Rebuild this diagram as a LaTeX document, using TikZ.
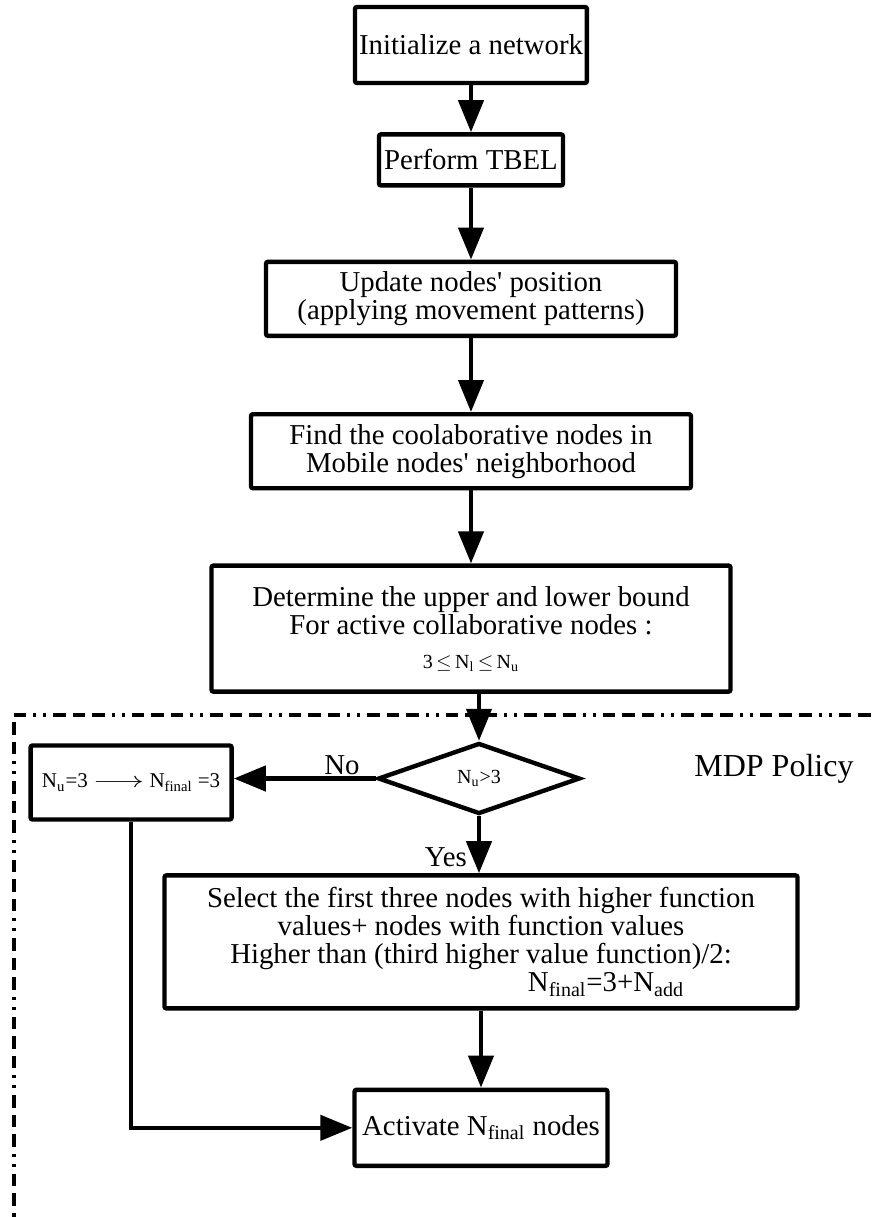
\documentclass[tikz,border=0pt]{standalone}
\usepackage{fontspec}
\setmainfont{Liberation Serif}
\usepackage{graphicx}
\usepackage{tikz}
\usetikzlibrary{positioning, arrows.meta, shapes.geometric, calc}
\tikzset{
	>={Triangle[length=16pt, width=12.5pt]},
	every node/.style={font=\fontsize{14.4}{14}\selectfont},
	process/.style={draw, rectangle, rounded corners=1pt, align=center, inner sep=2pt},
	decision/.style={draw, diamond, minimum width=101pt, minimum height=35.5pt, inner sep=0pt, font=\fontsize{10}{12}\selectfont},
	lbl/.style={inner sep=0pt},
	mdpline/.style={-, dash pattern=on 6.25pt off 3.5pt on 6.25pt off 3.5pt on 6.25pt off 3.5pt on 1.5pt off 3.5pt on 1.5pt off 3.5pt},
}

\begin{document}
\begin{tikzpicture}[->, line width=2.2pt]
	\useasboundingbox (-235.5pt,22.5pt) rectangle (200.5pt,-586pt);
	\node[process, minimum width=115pt, minimum height=38pt] (INIT) {Initialize a network};
	\node[process, below=23.5pt of INIT, minimum width=92pt, minimum height=25.5pt] (TBEL) {Perform TBEL};
	\node[process, below=36pt of TBEL, minimum width=205pt, minimum height=37pt] (UPDATE) {Update nodes\textquotesingle\ position\\(applying movement patterns)};
	\node[process, below=37pt of UPDATE, minimum width=220pt, minimum height=37pt] (FIND) {Find the coolaborative nodes in\\Mobile nodes\textquotesingle\ neighborhood};
	\node[process, below=36.5pt of FIND, minimum width=259.5pt, minimum height=63pt] (BOUND) {Determine the upper and lower bound\\For active collaborative nodes :\\[3pt]{\fontsize{10}{12}\selectfont 3\,$\leq$\,N\textsubscript{l}\,$\leq$\,N\textsubscript{u}}};
	\node[decision, below=23.5pt of BOUND, xshift=4pt] (DEC) {N\textsubscript{u}>3};
	\node[process, left=71pt of DEC, yshift=-2pt, minimum width=100.5pt, minimum height=37pt, font=\fontsize{10.5}{12}\selectfont] (FIX) {N\textsubscript{u}=3 \scalebox{1.45}[1]{$\longrightarrow$} N\textsubscript{final} =3};
	\node[process, below=28.5pt of DEC, xshift=1pt, minimum width=316.5pt, minimum height=66.5pt] (SELECT) {Select the first three nodes with higher function\\values+ nodes with function values\\Higher than (third higher value function)/2:\\\hspace*{125pt}N\textsubscript{final}=3+N\textsubscript{add}};
	\node[process, below=38.5pt of SELECT, minimum width=126.5pt, minimum height=38pt] (ACTIVATE) {Activate N\textsubscript{final}\ nodes};
	
	% branch labels
	\node[lbl, above left=1pt and 7pt of DEC.west] (NO) {No};
	\node[lbl, below left=14.5pt and 5pt of DEC.south] (YES) {Yes};
	\node[lbl, right=55pt of DEC.east, yshift=5pt, font=\fontsize{16}{17}\selectfont] (MDP) {MDP Policy};
	
	\draw (INIT) -- (TBEL);
	\draw (TBEL) -- (UPDATE);
	\draw (UPDATE) -- (FIND);
	\draw (FIND) -- (BOUND);
	\draw (BOUND.south -| DEC.north) -- (DEC.north);
	\draw (DEC.west) -- (DEC.west -| FIX.east);
	\draw (DEC.south) -- (DEC.south |- SELECT.north);
	\draw (SELECT.south -| ACTIVATE.north) -- (ACTIVATE.north);
	\draw (FIX.south) |- (ACTIVATE.west);
	
	% MDP policy frame
	\draw[mdpline] (-228.5pt,-590pt) -- (-228.5pt,-335pt) -- (204pt,-335pt);
\end{tikzpicture}
\end{document}
